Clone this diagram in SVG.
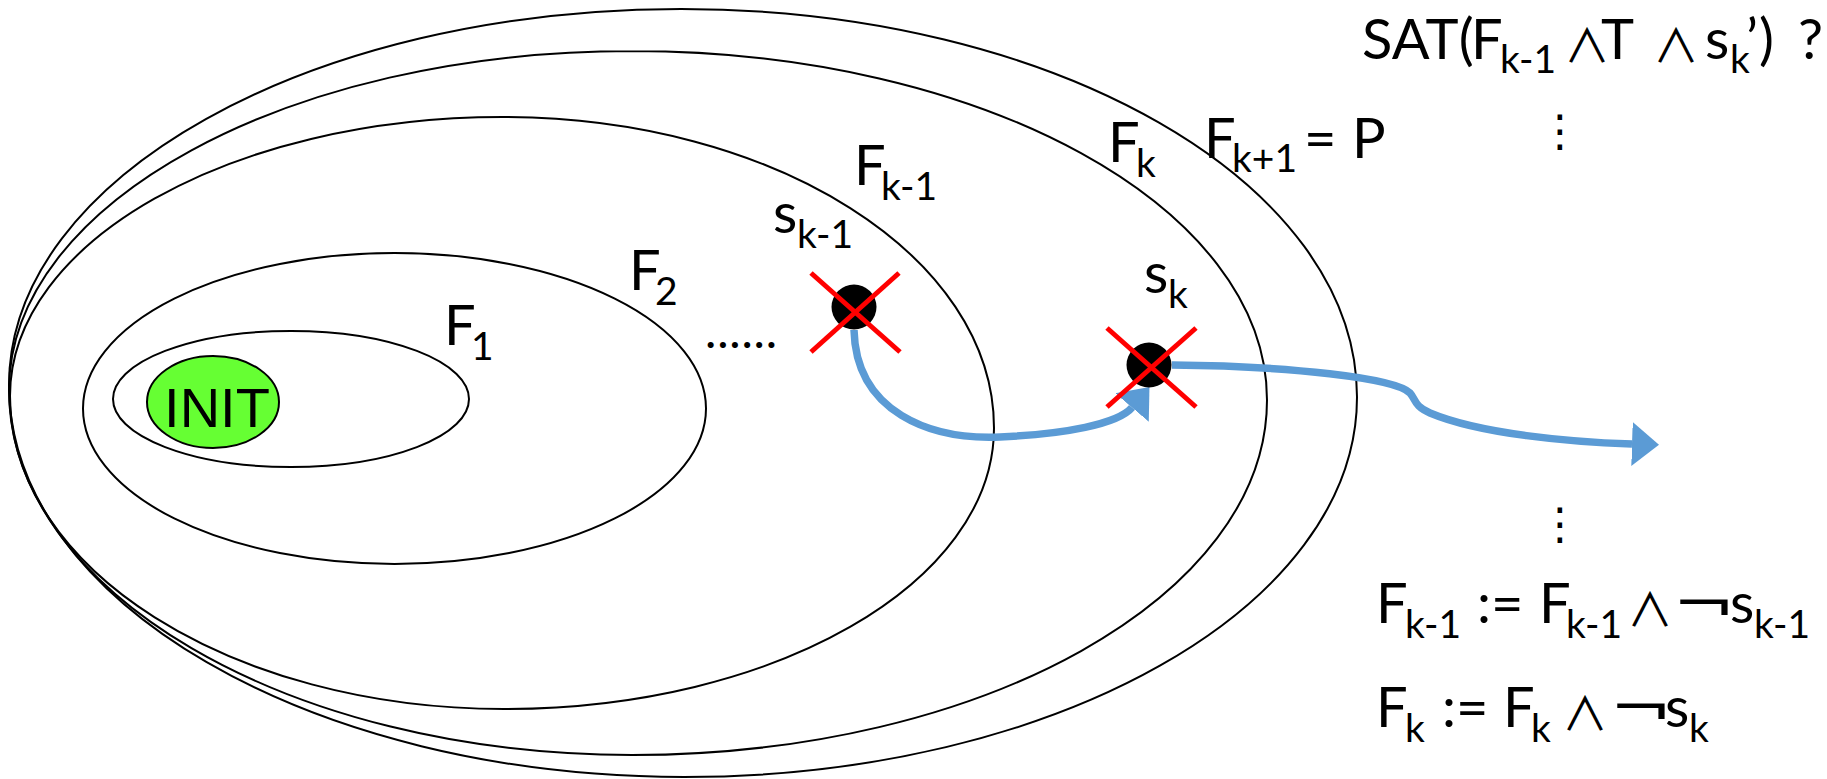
<svg xmlns="http://www.w3.org/2000/svg" width="1827" height="779" viewBox="0 0 1827 779">
<style>
.ring{fill:none;stroke:#000;stroke-width:2}
.t{font-family:Lato,'Open Sans','DejaVu Sans',sans-serif;font-size:56px;fill:#000}
.s{font-size:39px}
.and{font-family:'Noto Sans CJK JP','DejaVu Sans',sans-serif;font-size:46px;fill:#000}
.not{font-family:'DejaVu Sans',sans-serif;font-size:56px;fill:#000}
.vd{font-family:'DejaVu Sans',sans-serif;font-size:44px;fill:#000}
.conn{fill:none;stroke:#5B9BD5;stroke-width:7.5}
.x{stroke:#FF0000;stroke-width:5}
.dot{fill:#000}
</style>
<defs>
<marker id="ah" markerUnits="userSpaceOnUse" markerWidth="30" markerHeight="46" viewBox="0 0 30 46" refX="0" refY="23" orient="auto"><path d="M0,1 L27,23 L0,45 Z" fill="#5B9BD5"/></marker>
</defs>
<rect width="1827" height="779" fill="#fff"/>
<g id="Fk1">
<path class="ring" d="M681,9 C309.9,9 9,177.3 9,385 C9,601.5 311.2,777 684,777 C1055.7,777 1357,606.9 1357,397 C1357,182.7 1054.4,9 681,9 Z"/>
<text class="t"><tspan x="1204" y="158">F</tspan><tspan class="s" x="1232" y="172">k+1</tspan><tspan x="1304" y="158">=</tspan><tspan x="1352" y="158">P</tspan></text>
</g>
<g id="Fk">
<path class="ring" d="M632,51 C287.9,51 9,202.8 9,390 C9,591.6 287.9,755 632,755 C982.7,755 1267,596.1 1267,400 C1267,207.2 982.7,51 632,51 Z"/>
<text class="t"><tspan x="1108" y="162">F</tspan><tspan class="s" x="1136" y="177">k</tspan></text>
</g>
<g id="Fkm1">
<path class="ring" d="M503,117 C230.7,117 10,241.9 10,396 C10,568.9 231.2,709 504,709 C774.6,709 994,583.2 994,428 C994,256.2 774.2,117 503,117 Z"/>
<text class="t"><tspan x="854" y="185">F</tspan><tspan class="s" x="881" y="200">k-1</tspan></text>
</g>
<g id="F2">
<ellipse class="ring" cx="394.5" cy="408.5" rx="311.5" ry="155.5"/>
<text class="t"><tspan x="629" y="290">F</tspan><tspan class="s" x="655" y="305">2</tspan></text>
</g>
<g id="F1">
<ellipse class="ring" cx="291" cy="399" rx="178" ry="68"/>
<text class="t"><tspan x="444" y="345">F</tspan><tspan class="s" x="471" y="360">1</tspan></text>
</g>
<g id="INIT">
<ellipse cx="213" cy="402" rx="66" ry="46" fill="#66FF33" stroke="#000" stroke-width="2"/>
<text x="217" y="427" text-anchor="middle" style="font-family:'Liberation Sans',Arial,sans-serif;font-size:56px">INIT</text>
</g>
<g id="dots">
<text class="t" x="705" y="348" style="font-size:48px" textLength="72" lengthAdjust="spacing">......</text>
</g>
<g id="connectors">
<path class="conn" d="M854,330 C856,412 930,440 1000,437 C1065,434 1118,424 1132,407.5" marker-end="url(#ah)"/>
<path class="conn" d="M1172,365 C1290,366 1395,378 1410,393 C1416,400 1414,406 1430,413 C1480,434 1570,442 1632,444" marker-end="url(#ah)"/>
</g>
<g id="skm1">
<circle class="dot" cx="854" cy="307" r="22.5"/>
<line class="x" x1="811" y1="273" x2="900" y2="352"/>
<line class="x" x1="899" y1="273" x2="811" y2="352"/>
<text class="t"><tspan x="773" y="233">s</tspan><tspan class="s" x="797" y="248">k-1</tspan></text>
</g>
<g id="sk">
<circle class="dot" cx="1149" cy="365" r="22.5"/>
<line class="x" x1="1107" y1="328" x2="1196" y2="407"/>
<line class="x" x1="1196" y1="328" x2="1107" y2="407"/>
<text class="t"><tspan x="1144" y="293">s</tspan><tspan class="s" x="1168" y="308">k</tspan></text>
</g>
<g id="query">
<text class="t"><tspan x="1362" y="59">SAT(</tspan><tspan x="1471" y="59">F</tspan><tspan class="s" x="1500" y="73">k-1</tspan></text>
<text class="and" x="1587" y="62" text-anchor="middle">∧</text>
<text class="t" x="1601" y="59">T</text>
<text class="and" x="1676" y="62" text-anchor="middle">∧</text>
<text class="t"><tspan x="1705" y="59">s</tspan><tspan class="s" x="1730" y="73">k</tspan><tspan x="1746" y="59">’</tspan><tspan x="1759" y="59">)</tspan><tspan x="1798" y="59">?</tspan></text>
<text class="vd" x="1560" y="146" text-anchor="middle">⋮</text>
<text class="vd" x="1560" y="539" text-anchor="middle">⋮</text>
</g>
<g id="update1">
<text class="t"><tspan x="1376" y="623">F</tspan><tspan class="s" x="1405" y="638">k-1</tspan><tspan x="1477" y="623">:=</tspan><tspan x="1539" y="623">F</tspan><tspan class="s" x="1566" y="638">k-1</tspan></text>
<text class="and" x="1650" y="626" text-anchor="middle">∧</text>
<text class="not" transform="translate(1704,623) scale(1.35,1)" text-anchor="middle">¬</text>
<text class="t"><tspan x="1730" y="623">s</tspan><tspan class="s" x="1754" y="638">k-1</tspan></text>
</g>
<g id="update2">
<text class="t"><tspan x="1376" y="727">F</tspan><tspan class="s" x="1405" y="742">k</tspan><tspan x="1442" y="727">:=</tspan><tspan x="1503" y="727">F</tspan><tspan class="s" x="1531" y="742">k</tspan></text>
<text class="and" x="1585" y="730" text-anchor="middle">∧</text>
<text class="not" transform="translate(1641,727) scale(1.35,1)" text-anchor="middle">¬</text>
<text class="t"><tspan x="1665" y="727">s</tspan><tspan class="s" x="1689" y="742">k</tspan></text>
</g>
</svg>
